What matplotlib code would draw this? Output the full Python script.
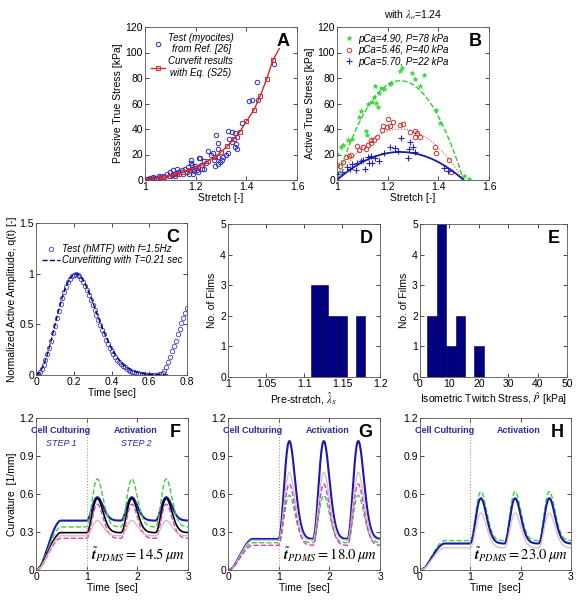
import numpy as np
import matplotlib.pyplot as plt

plt.rcParams['font.family'] = ['Liberation Sans', 'DejaVu Sans']
plt.rcParams['mathtext.fontset'] = 'stix'
plt.rcParams['font.size'] = 7.5

# ---- A: passive stress
a_test_x = [1.005, 1.010, 1.015, 1.020, 1.025, 1.030, 1.035, 1.045, 1.055, 1.060, 1.070, 1.075,
            1.085, 1.095, 1.100, 1.105, 1.110, 1.115, 1.120, 1.125, 1.130, 1.135, 1.147, 1.150,
            1.158, 1.165, 1.171, 1.175, 1.179, 1.182, 1.182, 1.184, 1.187, 1.190, 1.192, 1.197,
            1.205, 1.209, 1.211, 1.215, 1.217, 1.221, 1.225, 1.233, 1.233, 1.240, 1.247, 1.260,
            1.270, 1.274, 1.276, 1.280, 1.287, 1.287, 1.287, 1.289, 1.295, 1.303, 1.309, 1.320,
            1.329, 1.329, 1.333, 1.342, 1.345, 1.355, 1.355, 1.358, 1.362, 1.362, 1.384, 1.411,
            1.424, 1.441, 1.445, 1.510]
a_test_y = [0.5, 1.0, 0.3, 1.5, 0.8, 2.0, 1.2, 1.8, 3.0, 2.2, 3.5, 2.5,
            4.5, 3.5, 6.0, 4.0, 7.5, 5.0, 3.0, 9.0, 6.0, 4.5, 7.5, 5.0,
            9.0, 6.5, 10, 4.5, 7.5, 16, 13.5, 9, 12, 4.5, 7, 11,
            8, 6, 10, 17, 17.5, 11.5, 8.5, 15, 9, 13, 23, 20,
            21, 16, 11, 35, 24, 18, 12.5, 29, 14, 15.5, 18, 20,
            38.5, 21, 32, 38, 30, 37, 26, 28, 33.5, 24.5, 45, 62,
            63, 76.5, 63, 91]
a_fit_x = [1.0, 1.025, 1.05, 1.075, 1.1, 1.125, 1.15, 1.175, 1.2, 1.225, 1.25, 1.275,
           1.3, 1.325, 1.35, 1.375, 1.4, 1.43, 1.455, 1.48, 1.505, 1.53]
a_fit_y = [0, 0.5, 1.5, 2.5, 3.5, 4.8, 6.2, 7.8, 9.5, 12, 15, 18,
           22, 26.5, 32, 38, 46, 55, 66, 79, 94, 103]

# ---- B: active stress
b_green_x = [1.000, 1.016, 1.024, 1.045, 1.060, 1.087, 1.093, 1.115, 1.118, 1.122, 1.137, 1.145,
             1.149, 1.155, 1.160, 1.165, 1.175, 1.187, 1.209, 1.215, 1.249, 1.257, 1.296, 1.309,
             1.327, 1.343, 1.389, 1.407, 1.500, 1.520]
b_green_y = [20.5, 26, 27.5, 31.5, 32.5, 49.5, 54, 38.5, 35, 60, 61, 65,
             73.5, 60.5, 57.5, 68, 72, 71, 75.5, 76, 85.5, 88, 84, 79,
             73.5, 82.5, 55, 45, 3, 0.5]
b_red_x = [1.000, 1.013, 1.024, 1.035, 1.048, 1.057, 1.080, 1.087, 1.103, 1.113, 1.123, 1.133,
           1.136, 1.147, 1.156, 1.176, 1.183, 1.196, 1.203, 1.209, 1.220, 1.247, 1.260, 1.290,
           1.307, 1.309, 1.317, 1.327, 1.388, 1.391, 1.444, 1.451]
b_red_y = [12, 11, 14, 18, 19, 19.5, 27, 23.5, 25.5, 24.5, 27.5, 29,
           31.5, 31, 34, 39, 42, 41.5, 47.5, 42, 45.5, 43, 44, 38,
           34, 38.5, 36.5, 34, 26, 21, 15.5, 6.5]
b_blue_x = [1.005, 1.020, 1.040, 1.050, 1.060, 1.075, 1.080, 1.095, 1.104, 1.110, 1.124, 1.128,
            1.136, 1.140, 1.150, 1.167, 1.187, 1.209, 1.229, 1.240, 1.253, 1.280, 1.283, 1.290,
            1.300, 1.307, 1.424, 1.440]
b_blue_y = [5, 6, 10.5, 9, 12.5, 8, 13, 15, 16, 8.5, 18, 13,
            19, 13, 17, 15, 21, 26, 25, 23, 33, 17, 24, 30,
            26, 22, 9.5, 7]
b_fit_x = [1.0, 1.025, 1.05, 1.075, 1.1, 1.125, 1.15, 1.175, 1.2, 1.225, 1.25,
           1.275, 1.3, 1.325, 1.35, 1.375, 1.4, 1.425, 1.45, 1.475, 1.5]
b_fit_green = [0, 14.8, 28.1, 39.8, 49.9, 58.5, 65.5, 71.0, 74.9, 77.2, 78,
               77.2, 74.9, 71.0, 65.5, 58.5, 49.9, 39.8, 28.1, 14.8, 0]
b_fit_red = [0, 7.6, 14.4, 20.4, 25.6, 30.0, 33.6, 36.4, 38.4, 39.6, 40,
             39.6, 38.4, 36.4, 33.6, 30.0, 25.6, 20.4, 14.4, 7.6, 0]
b_fit_blue = [0, 4.2, 7.9, 11.2, 14.1, 16.5, 18.5, 20.0, 21.1, 21.8, 22,
              21.8, 21.1, 20.0, 18.5, 16.5, 14.1, 11.2, 7.9, 4.2, 0]

# ---- C: normalized activation
c_test_q = [0.00, 0.01, 0.03, 0.06, 0.10, 0.15, 0.21, 0.27, 0.34, 0.41,
            0.48, 0.56, 0.63, 0.70, 0.76, 0.82, 0.87, 0.92, 0.95, 0.98,
            0.99, 1.00, 0.99, 0.98, 0.95, 0.92, 0.88, 0.84, 0.79, 0.74,
            0.69, 0.64, 0.59, 0.54, 0.49, 0.44, 0.40, 0.35, 0.31, 0.27,
            0.24, 0.21, 0.18, 0.15, 0.13, 0.11, 0.09, 0.075, 0.06, 0.05,
            0.04, 0.03, 0.025, 0.02, 0.015, 0.01, 0.008, 0.005, 0.003, 0.002,
            0.001, 0.0, 0.0, 0.0, 0.002, 0.005, 0.01, 0.02, 0.04, 0.08,
            0.13, 0.18, 0.24, 0.29, 0.34, 0.40, 0.45, 0.51, 0.56, 0.61, 0.66]
c_fit_q = [0, 0.024, 0.095, 0.205, 0.341, 0.491, 0.640, 0.775, 0.883, 0.958,
           0.995, 0.996, 0.962, 0.900, 0.817, 0.721, 0.619, 0.518, 0.423, 0.337,
           0.262, 0.199, 0.148, 0.108, 0.077, 0.053, 0.036, 0.024, 0.016, 0.010,
           0.006, 0.004, 0.002, 0.001, 0.001, 0.0005]

# ---- D, E: histograms
d_edges = [1.109, 1.121, 1.132, 1.144, 1.156, 1.168, 1.180]
d_counts = [3, 3, 2, 2, 0, 2]
e_edges = [2.5, 5.7, 8.9, 12.1, 15.3, 18.5, 21.7]
e_counts = [2, 5, 1, 2, 0, 1]

# ---- F, G, H: curvature (plateau level, peak level per curve)
ramp_shape = [0, 0.005, 0.02, 0.04, 0.07, 0.10, 0.14, 0.19, 0.25, 0.31, 0.37, 0.43, 0.49,
              0.55, 0.61, 0.67, 0.73, 0.78, 0.83, 0.87, 0.91, 0.94, 0.97, 0.99, 1.0, 1.0]
q_cycle = c_fit_q[:34]
f_base = [0.39, 0.34, 0.295, 0.25, 0.27]
f_peak = [0.575, 0.72, 0.565, 0.52, 0.39]
g_base = [0.245, 0.235, 0.215, 0.195]
g_peak = [1.02, 0.77, 0.59, 0.68]
h_base = [0.232, 0.209, 0.175]
h_peak = [0.62, 0.567, 0.45]

blue = '#1a1aa8'
navy = '#00007a'

fig = plt.figure(figsize=(5.82, 6.0), dpi=100)


def style(ax):
    ax.tick_params(direction='in', top=True, right=True, length=3, width=0.5, labelsize=7.5, pad=1.5)
    for s in ax.spines.values():
        s.set_linewidth(0.6)
        s.set_color('#555555')


def letter(ax, s):
    ax.text(0.95, 0.96, s, transform=ax.transAxes, ha='right', va='top',
            fontsize=13, fontweight='bold')


# A
ax = fig.add_axes([0.2491, 0.70, 0.2612, 0.255])
ax.plot(a_test_x, a_test_y, 'o', ms=3.2, mfc='none', mec='#2b2bc0', mew=0.7,
        label='Test (myocites)\nfrom Ref. [26]')
ax.plot(a_fit_x, a_fit_y, '-', color='#d42a2a', lw=1.0, marker='s', ms=3.2,
        mfc='none', mec='#d42a2a', mew=0.7, markevery=list(range(21)),
        label='Curvefit results\nwith Eq. (S25)')
ax.set_xlim(1, 1.6)
ax.set_ylim(0, 120)
ax.set_xticks([1, 1.2, 1.4, 1.6])
ax.set_xticklabels(['1', '1.2', '1.4', '1.6'])
ax.set_yticks(range(0, 121, 20))
ax.set_xlabel('Stretch [-]', labelpad=1)
ax.set_ylabel('Passive True Stress [kPa]', labelpad=2)
leg = ax.legend(loc='upper left', frameon=False, fontsize=7, handlelength=1.5,
                handletextpad=0.3, borderaxespad=0.2, labelspacing=0.2)
for t in leg.get_texts():
    t.set_fontstyle('italic')
    t.set_multialignment('center')
style(ax)
letter(ax, 'A')

# B
ax = fig.add_axes([0.579, 0.70, 0.2612, 0.255])
ax.plot(b_green_x, b_green_y, '*', ms=3.5, color='#33dd33', mew=0.5, label='pCa=4.90, P=78 kPa')
ax.plot(b_red_x, b_red_y, 'o', ms=3.2, mfc='none', mec='#cc3333', mew=0.7, label='pCa=5.46, P=40 kPa')
ax.plot(b_blue_x, b_blue_y, '+', ms=4, color='#2222bb', mew=0.8, label='pCa=5.70, P=22 kPa')
ax.plot(b_fit_x, b_fit_green, '--', color='#33cc33', lw=1.0)
ax.plot(b_fit_x, b_fit_red, ':', color='#cc5555', lw=0.8)
ax.plot(b_fit_x, b_fit_blue, '-', color='#1a1aa8', lw=1.3)
ax.set_xlim(1, 1.6)
ax.set_ylim(0, 120)
ax.set_xticks([1, 1.2, 1.4, 1.6])
ax.set_xticklabels(['1', '1.2', '1.4', '1.6'])
ax.set_yticks(range(0, 121, 20))
ax.set_xlabel('Stretch [-]', labelpad=1)
ax.set_ylabel('Active True Stress [kPa]', labelpad=2)
ax.set_title(r'with $\lambda_o$=1.24', fontsize=7.5, pad=6)
leg = ax.legend(loc='upper left', frameon=False, fontsize=7, handlelength=1.0,
                handletextpad=0.5, borderaxespad=0.3, labelspacing=0.15)
for t in leg.get_texts():
    t.set_fontstyle('italic')
style(ax)
letter(ax, 'B')

# C
ax = fig.add_axes([0.0619, 0.375, 0.2595, 0.2533])
c_t = np.arange(len(c_test_q)) * 0.01
c_tf = np.arange(len(c_fit_q)) * 0.02
ax.plot(c_t, c_test_q, 'o', ms=3.2, mfc='none', mec='#4040c0', mew=0.6,
        label='Test (hMTF) with f=1.5Hz')
ax.plot(c_tf, c_fit_q, '--', color=navy, lw=1.0, label='Curvefitting with T=0.21 sec')
ax.set_xlim(0, 0.8)
ax.set_ylim(0, 1.5)
ax.set_xticks([0, 0.2, 0.4, 0.6, 0.8])
ax.set_xticklabels(['0', '0.2', '0.4', '0.6', '0.8'])
ax.set_yticks([0, 0.5, 1, 1.5])
ax.set_yticklabels(['0', '0.5', '1', '1.5'])
ax.set_xlabel('Time [sec]', labelpad=1)
ax.set_ylabel('Normalized Active Amplitude, q(t) [-]', labelpad=2)
leg = ax.legend(loc='upper right', bbox_to_anchor=(1.03, 0.92), frameon=False, fontsize=7,
                handlelength=1.8, handletextpad=0.3, labelspacing=0.15)
for t in leg.get_texts():
    t.set_fontstyle('italic')
style(ax)
letter(ax, 'C')

# D
ax = fig.add_axes([0.3918, 0.3717, 0.2612, 0.255])
ax.bar(d_edges[:-1], d_counts, width=np.diff(d_edges), align='edge',
       color='#000080', edgecolor='#000040', lw=0.4)
ax.set_xlim(1, 1.2)
ax.set_ylim(0, 5)
ax.set_xticks([1, 1.05, 1.1, 1.15, 1.2])
ax.set_xticklabels(['1', '1.05', '1.1', '1.15', '1.2'])
ax.set_xlabel(r'Pre-stretch, $\hat{\lambda}_S$', labelpad=1)
ax.set_ylabel('No. of Films', labelpad=2)
style(ax)
letter(ax, 'D')

# E
ax = fig.add_axes([0.7216, 0.3717, 0.2526, 0.255])
ax.bar(e_edges[:-1], e_counts, width=np.diff(e_edges), align='edge',
       color='#000080', edgecolor='#000040', lw=0.4)
ax.set_xlim(0, 50)
ax.set_ylim(0, 5)
ax.set_xticks(range(0, 51, 10))
ax.set_xlabel(r'Isometric Twitch Stress, $\hat{P}$ [kPa]', labelpad=1)
ax.set_ylabel('No. of Films', labelpad=2)
style(ax)
letter(ax, 'E')

# F, G, H
t_pre = np.arange(50) * 0.02
t_act = 1 + np.arange(101) * 0.02
ramp_full = np.concatenate([ramp_shape, np.ones(50 - len(ramp_shape))])
q_full = np.tile(q_cycle, 3)[:101]
t_all = np.concatenate([t_pre, t_act])

panels = [
    ('F', 0.0619, 0.2612, f_base, f_peak,
     [(blue, '-', 1.5), ('#44cc44', '--', 1.0), ('black', '-', 1.2), ('#cc44cc', '--', 1.0), ('#e6b3bd', '-', 1.0)],
     '14.5', True),
    ('G', 0.3918, 0.2612, g_base, g_peak,
     [(blue, '-', 1.5), ('#e0bfc4', '-', 1.0), ('#44cc44', '--', 1.0), ('#cc44cc', '--', 1.0)],
     '18.0', False),
    ('H', 0.7216, 0.2595, h_base, h_peak,
     [('#44cc44', '--', 1.0), (blue, '-', 1.5), ('#e0bfc4', '-', 1.0)],
     '23.0', False),
]

for name, left, width, bases, peaks, styles, thick, first in panels:
    ax = fig.add_axes([left, 0.05, width, 0.2533])
    for b, p, (col, ls, lw) in zip(bases, peaks, styles):
        y = np.concatenate([b * ramp_full, b + (p - b) * q_full])
        ax.plot(t_all, y, ls, color=col, lw=lw)
    ax.axvline(1, color='#999999', ls=':', lw=0.8)
    ax.set_xlim(0, 3)
    ax.set_ylim(0, 1.2)
    ax.set_xticks([0, 1, 2, 3])
    ax.set_yticks([0, 0.3, 0.6, 0.9, 1.2])
    ax.set_yticklabels(['0', '0.3', '0.6', '0.9', '1.2'])
    ax.set_xlabel('Time  [sec]', labelpad=1)
    if first:
        ax.set_ylabel('Curvature  [1/mm]', labelpad=2)
    ax.text(0.49, 1.10, 'Cell Culturing', color='#2a2aa0', fontsize=6.5,
            fontweight='bold', ha='center', va='center')
    ax.text(1.97, 1.10, 'Activation', color='#2a2aa0', fontsize=6.5,
            fontweight='bold', ha='center', va='center')
    if first:
        ax.text(0.49, 1.0, 'STEP 1', color='#2a2aa0', fontsize=6.5,
                fontstyle='italic', ha='center', va='center')
        ax.text(1.97, 1.0, 'STEP 2', color='#2a2aa0', fontsize=6.5,
                fontstyle='italic', ha='center', va='center')
    ax.text(2.95, 0.04, r'$\widetilde{\boldsymbol{t}}_{PDMS}=%s\,\mu m$' % thick,
            fontsize=10.5, ha='right', va='bottom')
    style(ax)
    letter(ax, name)

fig.savefig('out.png', dpi=100)
